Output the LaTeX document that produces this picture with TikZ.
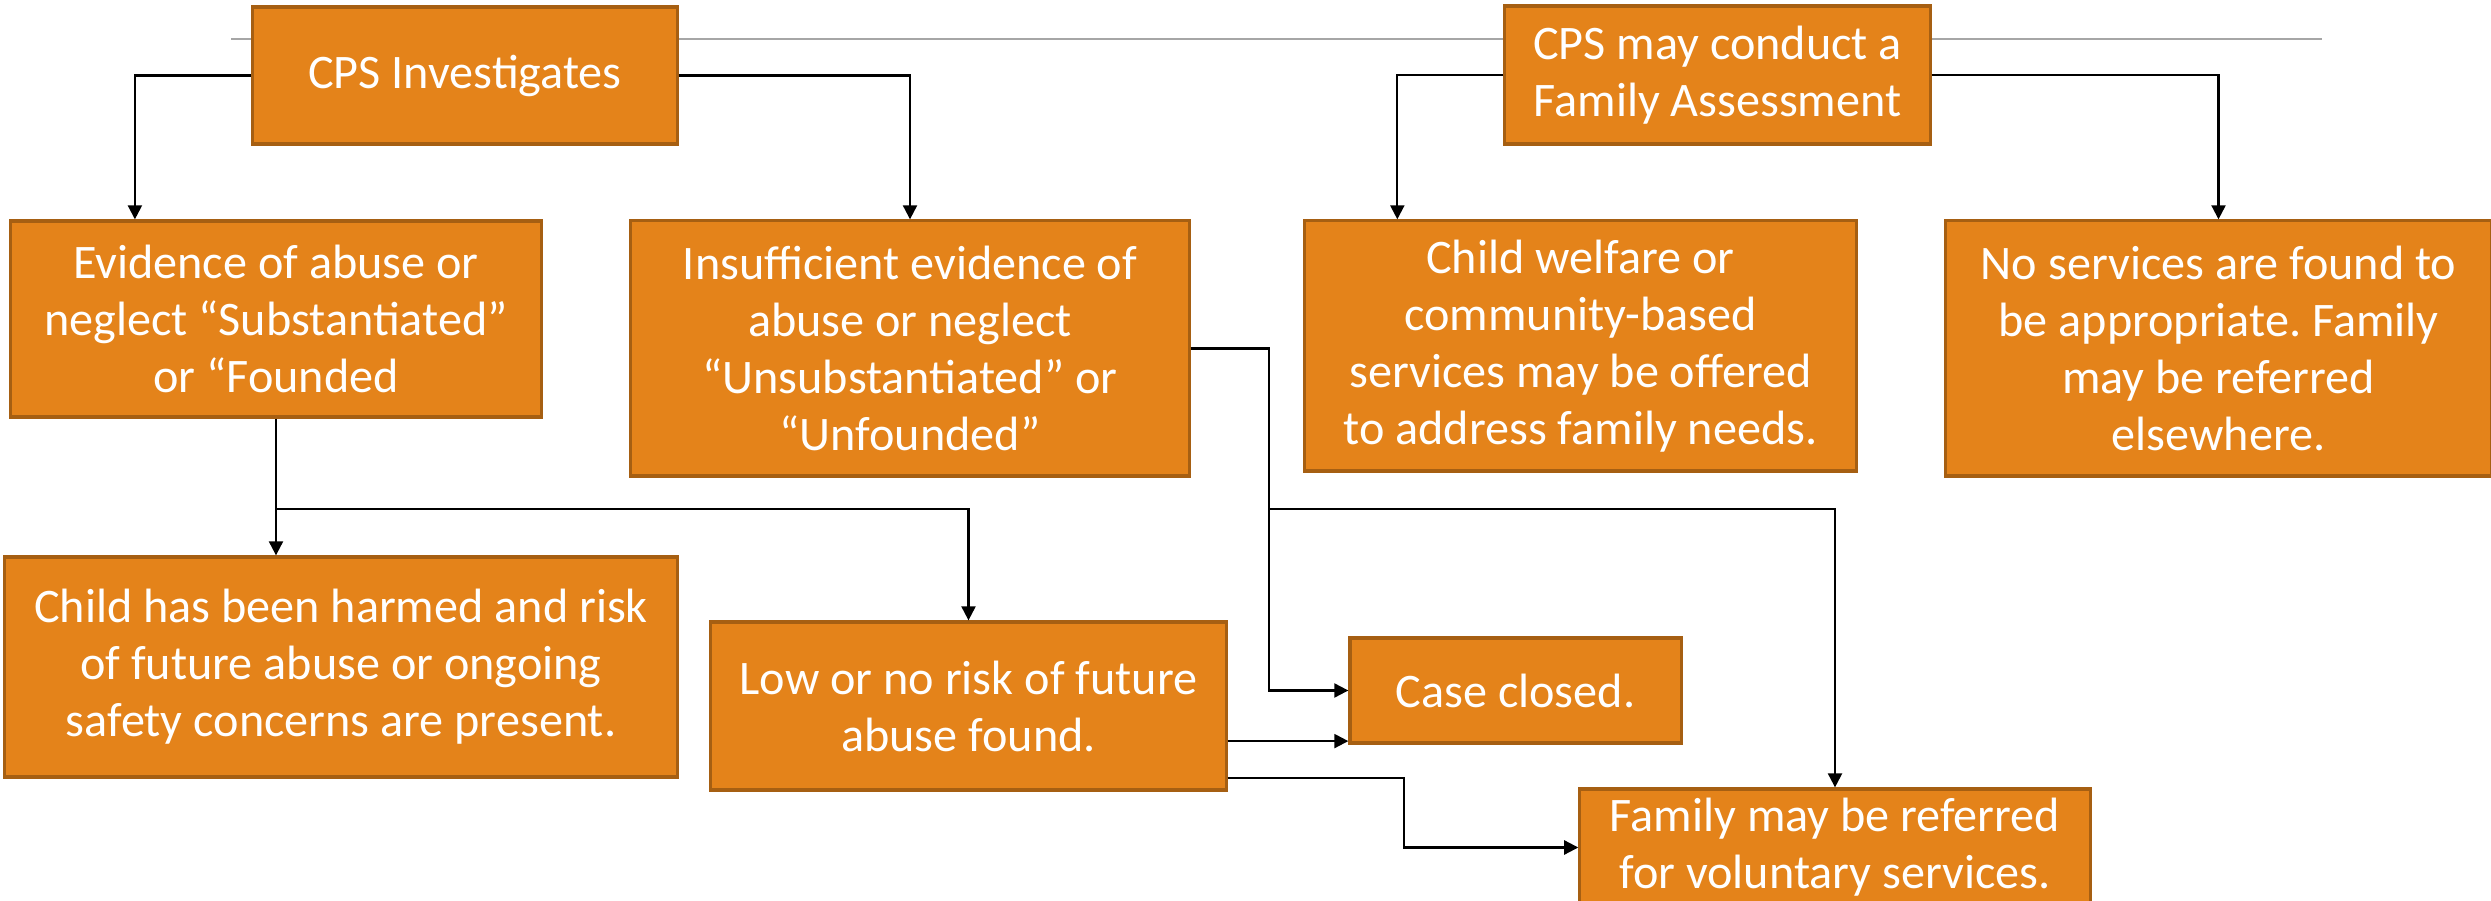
\documentclass[tikz,border=0pt]{standalone}
\usepackage{fontspec}
\setmainfont{Carlito}
\usetikzlibrary{arrows.meta}
\definecolor{boxfill}{HTML}{E4831A}
\definecolor{boxline}{HTML}{A65F12}
\definecolor{rulegray}{HTML}{A6A6A6}
\frenchspacing

\begin{document}
\begin{tikzpicture}[x=0.01cm, y=-0.01cm,
  box/.style={draw=boxline, fill=boxfill, line width=0.9pt, text=white,
    align=center, inner sep=0pt, font=\fontsize{13.7}{16.2}\selectfont},
  arr/.style={-{Triangle[length=4pt,width=4pt]}, line width=0.6pt}]
  \useasboundingbox (0,0) rectangle (2491,901);

  % title rule
  \draw[rulegray, line width=0.6pt] (231,39) -- (2322,39);

  % 1. the two ways in
  \node[box, minimum width=4.24cm, minimum height=1.37cm] (inv) at (465,75.5)
    {CPS Investigates};
  \node[box, minimum width=4.25cm, minimum height=1.38cm] (fam) at (1717.5,75)
    {CPS may conduct a\\Family Assessment};

  % 2. findings
  \node[box, minimum width=5.30cm, minimum height=1.96cm] (sub) at (276,319)
    {Evidence of abuse or\\neglect “Substantiated”\\or “Founded};
  \node[box, minimum width=5.58cm, minimum height=2.55cm] (uns) at (910,348.5)
    {Insufficient evidence of\\abuse or neglect\\“Unsubstantiated” or\\“Unfounded”};
  \node[box, minimum width=5.51cm, minimum height=2.50cm] (cw) at (1580.5,346)
    {Child welfare or\\community-based\\services may be offered\\to address family needs.};
  \node[box, minimum width=5.45cm, minimum height=2.55cm] (nos) at (2218.5,348.5)
    {No services are found to\\be appropriate. Family\\may be referred\\elsewhere.};

  % 3. outcomes
  \node[box, minimum width=6.72cm, minimum height=2.20cm] (harm) at (341,667)
    {Child has been harmed and risk\\of future abuse or ongoing\\safety concerns are present.};
  \node[box, minimum width=5.15cm, minimum height=1.68cm] (low) at (968.5,706)
    {Low or no risk of future\\abuse found.};
  \node[box, minimum width=3.31cm, minimum height=1.05cm] (closed) at (1515.5,690.5)
    {Case closed.};
  \node[box, minimum width=5.10cm, minimum height=1.17cm] (ref) at (1835,847.5)
    {Family may be referred\\for voluntary services.};

  % junctions
  \coordinate (jsub) at (276,509);
  \coordinate (juns) at (1269,509);
  \coordinate (jlow) at (1404,778);

  % connectors
  \draw[arr] (inv.west) -| ([xshift=-1.41cm]sub.north);
  \draw[arr] (inv.east) -| (uns.north);
  \draw[arr] (fam.west) -| ([xshift=0.94cm]cw.north west);
  \draw[arr] (fam.east) -| (nos.north);
  \draw[arr] (sub.south) -- (sub.south |- harm.north);
  \draw[arr] (jsub) -| (low.north);
  \draw[arr] (uns.east) -| (juns) |- (closed.west);
  \draw[arr] (juns) -| (ref.north);
  \draw[arr] ([yshift=1pt]low.east |- closed.south west) -- ([yshift=1pt]closed.south west);
  \draw[arr] (low.east |- jlow) -- (jlow) |- (ref.west);
\end{tikzpicture}
\end{document}
